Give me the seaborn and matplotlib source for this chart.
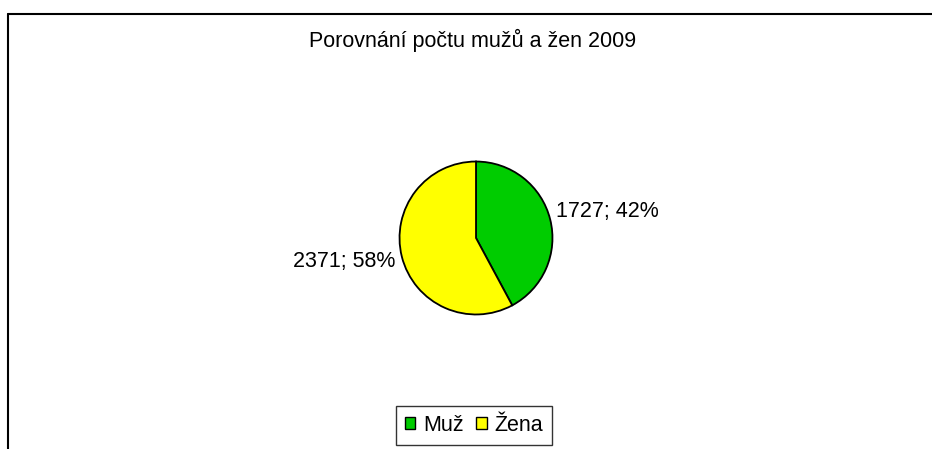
import matplotlib
matplotlib.use("Agg")
import matplotlib.pyplot as plt
import seaborn as sns
from matplotlib.patches import Patch
from matplotlib.lines import Line2D

# data
categories = ["Muž", "Žena"]
counts = [1727, 2371]
colors = ["#00CC00", "#FFFF00"]
title = "Porovnání počtu mužů a žen 2009"

sns.set_style("white")
plt.rcParams['font.family'] = ['Liberation Sans', 'DejaVu Sans']
plt.rcParams['text.color'] = 'black'

W, H = 932, 449
fig = plt.figure(figsize=(W / 100, H / 100), dpi=100)
fs = 15.5

# pie centre and radius in pixels
cx, cy, r = 476, 238, 78
ax = fig.add_axes([(cx - r) / W, (H - cy - r) / H, 2 * r / W, 2 * r / H])
wedges, _ = ax.pie(counts, colors=colors, startangle=90, counterclock=False,
                   radius=1, wedgeprops=dict(edgecolor="black", linewidth=1.3))
ax.set_xlim(-1.02, 1.02)
ax.set_ylim(-1.02, 1.02)
ax.set_aspect("equal")
ax.axis("off")

total = sum(counts)
labels = [f"{c}; {round(100 * c / total)}%" for c in counts]
ax.text(1.04, 0.34, labels[0], ha="left", va="center", fontsize=fs, color="black")
ax.text(-1.06, -0.31, labels[1], ha="right", va="center", fontsize=fs, color="black")

fig.text(473 / W, 1 - 40 / H, title, ha="center", va="center", fontsize=fs, color="black")

handles = [Patch(facecolor=c, edgecolor="black", linewidth=1) for c in colors]
leg = fig.legend(handles, categories, loc="center",
                 bbox_to_anchor=(474 / W, 1 - 425.5 / H), ncol=2,
                 fontsize=fs, frameon=True, fancybox=False,
                 handlelength=0.5, handleheight=0.5, handletextpad=0.35,
                 columnspacing=0.6, borderpad=0.4, borderaxespad=0)
leg.get_frame().set_edgecolor("black")
leg.get_frame().set_linewidth(1)

# chart-area border (top and left only visible)
bx, by = 7.5 / W, 1 - 13.5 / H
fig.add_artist(Line2D([bx, 1], [by, by], color="black", linewidth=1.5))
fig.add_artist(Line2D([bx, bx], [0, by], color="black", linewidth=1.5))

fig.savefig("out.png", dpi=100)
